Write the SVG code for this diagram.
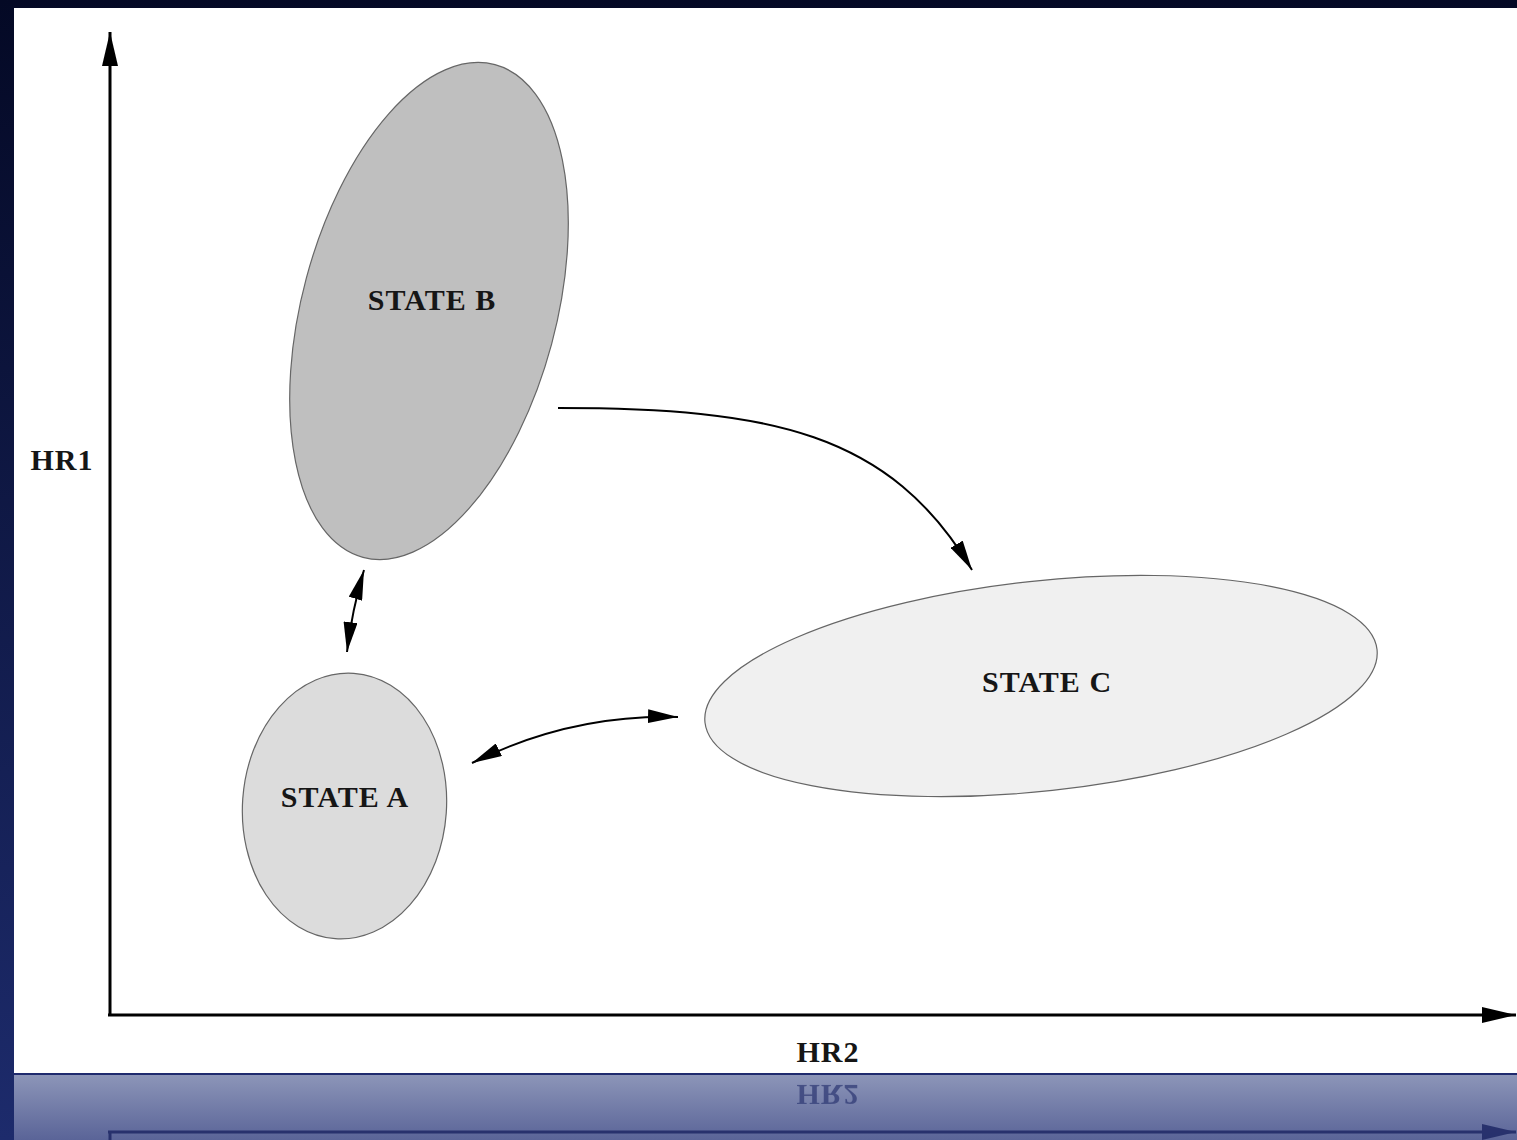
<svg xmlns="http://www.w3.org/2000/svg" width="1517" height="1140" viewBox="0 0 1517 1140">
  <defs>
    <linearGradient id="bg" x1="0" y1="0" x2="0" y2="1">
      <stop offset="0" stop-color="#040925"/>
      <stop offset="1" stop-color="#1d2b6c"/>
    </linearGradient>
    <linearGradient id="refl" x1="0" y1="0" x2="0" y2="1">
      <stop offset="0" stop-color="#8c95b8"/>
      <stop offset="1" stop-color="#5a6498"/>
    </linearGradient>
    <marker id="ah" viewBox="0 0 30 14" refX="30" refY="7" markerWidth="30" markerHeight="14" markerUnits="userSpaceOnUse" orient="auto-start-reverse">
      <path d="M0,0 L30,7 L0,14 z" fill="#000"/>
    </marker>
    <marker id="axh" viewBox="0 0 34 16" refX="34" refY="8" markerWidth="34" markerHeight="16" markerUnits="userSpaceOnUse" orient="auto">
      <path d="M0,0 L34,8 L0,16 z" fill="#000"/>
    </marker>
    <marker id="axhr" viewBox="0 0 34 16" refX="34" refY="8" markerWidth="34" markerHeight="16" markerUnits="userSpaceOnUse" orient="auto">
      <path d="M0,0 L34,8 L0,16 z" fill="#1e2865"/>
    </marker>
  </defs>
  <style>
    .lbl { font-family: "Liberation Serif", "Times New Roman", serif; font-weight: bold; font-size: 30px; letter-spacing: 1px; fill: #161616; }
    .ax { stroke: #000; stroke-width: 3; fill: none; }
    .conn { stroke: #000; stroke-width: 2; fill: none; }
    .st { stroke: #666; stroke-width: 1.2; }
  </style>

  <!-- background frame -->
  <rect x="0" y="0" width="1517" height="1140" fill="url(#bg)"/>
  <rect x="14" y="8" width="1503" height="1065" fill="#ffffff"/>
  <rect x="14" y="1073" width="1503" height="2" fill="#1f2a6e"/>
  <rect x="14" y="1075" width="1503" height="65" fill="url(#refl)"/>

  <!-- axes -->
  <g id="axes">
    <line class="ax" x1="110" y1="1015" x2="110" y2="32" marker-end="url(#axh)"/>
    <line class="ax" x1="108" y1="1015" x2="1516" y2="1015" marker-end="url(#axh)"/>
    <text class="lbl" x="62" y="470" text-anchor="middle">HR1</text>
    <text class="lbl" x="828" y="1062" text-anchor="middle">HR2</text>
  </g>

  <!-- reflection -->
  <g id="reflection" opacity="0.85">
    <line x1="110" y1="1132" x2="110" y2="1140" stroke="#1e2865" stroke-width="3"/>
    <line x1="108" y1="1132" x2="1516" y2="1132" stroke="#1e2865" stroke-width="3" marker-end="url(#axhr)"/>
    <text x="828" y="1062" text-anchor="middle" transform="matrix(1,0,0,-1,0,2147)" font-family="Liberation Serif, serif" font-weight="bold" font-size="30" letter-spacing="1" fill="#2a3470" opacity="0.8">HR2</text>
  </g>

  <!-- nodes -->
  <g id="stateB">
    <ellipse class="st" cx="429" cy="311" rx="127" ry="255" transform="rotate(15 429 311)" fill="#bfbfbf"/>
    <text class="lbl" x="432" y="310" text-anchor="middle">STATE B</text>
  </g>
  <g id="stateA">
    <ellipse class="st" cx="344.5" cy="806" rx="102" ry="133" transform="rotate(4 344.5 806)" fill="#dcdcdc"/>
    <text class="lbl" x="345" y="807" text-anchor="middle">STATE A</text>
  </g>
  <g id="stateC">
    <ellipse class="st" cx="1041" cy="686" rx="338" ry="105" transform="rotate(-6.2 1041 686)" fill="#f0f0f0"/>
    <text class="lbl" x="1047" y="692" text-anchor="middle">STATE C</text>
  </g>

  <!-- connectors -->
  <g id="connectors">
    <path class="conn" d="M558,408 C770,408 890,432 972,570" marker-end="url(#ah)"/>
    <path class="conn" d="M364,570 Q352,610 347,652" marker-start="url(#ah)" marker-end="url(#ah)"/>
    <path class="conn" d="M472,763 Q571,714 678,717" marker-start="url(#ah)" marker-end="url(#ah)"/>
  </g>
</svg>
